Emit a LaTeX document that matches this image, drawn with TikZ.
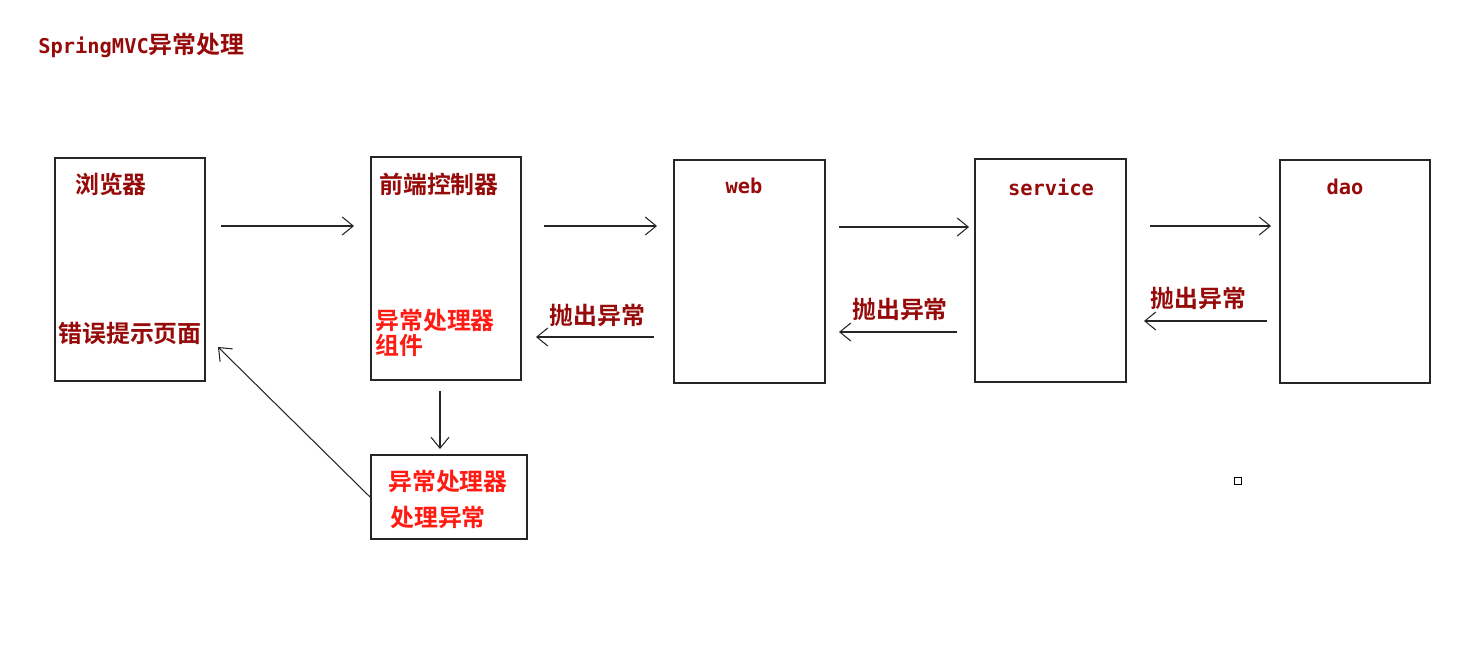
\documentclass[tikz,border=0pt]{standalone}
\usepackage{fontspec}
\usepackage{tikz}
\usetikzlibrary{arrows.meta,positioning}
\newfontfamily\cjk{Noto Sans CJK SC}[BoldFont={Noto Sans CJK SC Bold}]
\newfontfamily\mono{DejaVu Sans Mono}
\definecolor{mvcink}{HTML}{262626}
\definecolor{mvcdark}{HTML}{960A0A}
\definecolor{mvcred}{HTML}{FF1A12}
\tikzset{
  layer/.style={draw=mvcink, line width=1.1pt, minimum width=3.0cm, minimum height=4.46cm, inner sep=0pt},
  zh/.style={font=\cjk\bfseries\fontsize{13.6}{15}\selectfont, inner sep=0pt},
  en/.style={font=\mono\bfseries\fontsize{11.6}{13}\selectfont, inner sep=0pt},
  dk/.style={text=mvcdark},
  rd/.style={text=mvcred},
  arr/.style={-{Straight Barb[length=2.2mm, width=3.6mm]}, line width=0.6pt, color=mvcink},
}

\begin{document}
\begin{tikzpicture}
      \useasboundingbox (0,0) rectangle (29.28,-13.16);
      \node[en, dk, anchor=west] (title) at (0.76,-0.90) {SpringMVC{\cjk\bfseries\fontsize{13.6}{15}\selectfont 异常处理}};
      % layers
      \node[layer] (browser) at (2.60,-5.39) {};
      \node[layer] (ctrl) at (8.92,-5.37) {};
      \node[layer, minimum width=3.02cm] (web) at (14.99,-5.43) {};
      \node[layer, minimum width=3.02cm] (service) at (21.01,-5.41) {};
      \node[layer] (dao) at (27.10,-5.43) {};
      \node[layer, minimum width=3.12cm, minimum height=1.68cm] (handler) at (8.98,-9.94) {};
      \node[zh, dk] (browserlbl) at (2.22,-3.68) {浏览器};
      \node[zh, dk] (errpage) at (2.60,-6.66) {错误提示页面};
      \node[zh, dk] (ctrllbl) at (8.78,-3.68) {前端控制器};
      \node[zh, rd, align=left, anchor=west, font=\cjk\bfseries\fontsize{13.6}{12.5}\selectfont] (comp) at (7.50,-6.66) {异常处理器\\组件};
      \node[en, dk] (weblbl) at (14.88,-3.72) {web};
      \node[en, dk] (servicelbl) at (21.02,-3.74) {service};
      \node[en, dk] (daolbl) at (26.90,-3.74) {dao};
      \node[zh, rd] (hdltop) at (8.96,-9.62) {异常处理器};
      \node[zh, rd] (hdlbot) at (8.76,-10.34) {处理异常};
      \node[draw=black, line width=0.9pt, minimum size=0.14cm, inner sep=0pt] (mark) at (24.76,-9.62) {};
      % request
      \draw[arr, shorten <=3mm, shorten >=3.2mm] ([yshift=8.7mm]browser.east) -- ([yshift=8.7mm]browser.east -| ctrl.west);
      \draw[arr, shorten <=4.4mm, shorten >=3.2mm] ([yshift=8.5mm]ctrl.east) -- ([yshift=8.5mm]ctrl.east -| web.west);
      \draw[arr, shorten <=2.6mm, shorten >=1mm] ([yshift=8.9mm]web.east) -- ([yshift=8.9mm]web.east -| service.west);
      \draw[arr, shorten <=4.6mm, shorten >=1.6mm] ([yshift=8.9mm]service.east) -- ([yshift=8.9mm]service.east -| dao.west);
      % exception
      \draw[arr, shorten <=2.4mm, shorten >=3.4mm] ([yshift=-9.9mm]dao.west) -- ([yshift=-9.9mm]dao.west -| service.east)
        node[zh, dk, pos=0.53, above=2.2mm] (throwc) {抛出异常};
      \draw[arr, shorten <=3.4mm, shorten >=2.6mm] ([yshift=-12.3mm]service.west) -- ([yshift=-12.3mm]service.west -| web.east)
        node[zh, dk, midway, above=2.2mm] (throwb) {抛出异常};
      \draw[arr, shorten <=3.8mm, shorten >=2.8mm] ([yshift=-13.1mm]web.west) -- ([yshift=-13.1mm]web.west -| ctrl.east)
        node[zh, dk, midway, above=1.9mm] (throwa) {抛出异常};
      \draw[arr, shorten <=2mm, shorten >=1mm] ([xshift=-1.2mm]ctrl.south) -- ([xshift=-1.2mm]ctrl.south |- handler.north);
      \draw[arr] (handler.west) -- ([shift={(0.24,0.70)}]browser.south east);
    \end{tikzpicture}
\end{document}
